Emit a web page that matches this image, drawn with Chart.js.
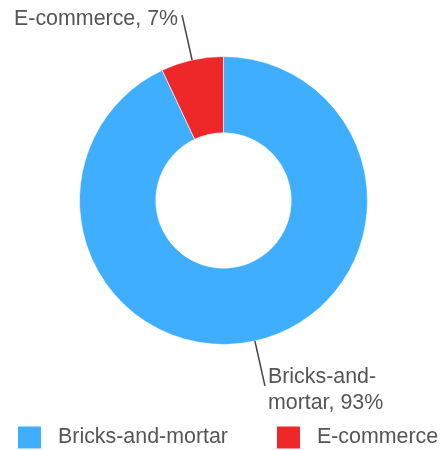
<!DOCTYPE html>
<html>
<head>
<meta charset="utf-8">
<script src="https://cdn.jsdelivr.net/npm/chart.js@4/dist/chart.umd.min.js"></script>
<style>
  html, body { margin: 0; padding: 0; background: #ffffff; }
  #wrap { width: 441px; height: 450px; }
</style>
</head>
<body>
<div id="wrap"><canvas id="c" width="441" height="450"></canvas></div>
<script>
// Retail sales split by channel (percent)
const categories = ['Bricks-and-mortar', 'E-commerce'];
const shares = [93, 7];
const sliceColors = ['#40AEFF', '#EE2828'];

const FONT = '21.4px "Liberation Sans", Arial, Helvetica, sans-serif';
const TEXT_COLOR = '#555555';

// Greedy wrap that may break after hyphens and spaces
function wrapText(ctx, text, maxWidth) {
  const tokens = text.match(/[^\s-]+-?\s*|\s+/g) || [text];
  const lines = [];
  let cur = '';
  tokens.forEach(tok => {
    const trial = cur + tok;
    if (cur && ctx.measureText(trial.trimEnd()).width > maxWidth) {
      lines.push(cur.trimEnd());
      cur = tok;
    } else {
      cur = trial;
    }
  });
  if (cur) lines.push(cur.trimEnd());
  return lines;
}

// Leader lines with "label, value%" callouts outside each slice
const calloutPlugin = {
  id: 'callouts',
  afterDatasetsDraw(chart) {
    const ctx = chart.ctx;
    const meta = chart.getDatasetMeta(0);
    const LEAD = 46;
    const LINE_H = 26;
    ctx.save();
    ctx.font = FONT;
    meta.data.forEach((arc, i) => {
      const p = arc.getProps(['x', 'y', 'startAngle', 'endAngle', 'outerRadius'], true);
      const mid = (p.startAngle + p.endAngle) / 2;
      const cos = Math.cos(mid), sin = Math.sin(mid);
      const x0 = p.x + cos * p.outerRadius, y0 = p.y + sin * p.outerRadius;
      const x1 = p.x + cos * (p.outerRadius + LEAD), y1 = p.y + sin * (p.outerRadius + LEAD);
      ctx.beginPath();
      ctx.moveTo(x0, y0);
      ctx.lineTo(x1, y1);
      ctx.strokeStyle = '#444444';
      ctx.lineWidth = 1.5;
      ctx.stroke();

      const text = categories[i] + ', ' + shares[i] + '%';
      const onRight = cos >= 0;
      const tx = onRight ? x1 + 3 : x1 - 4;
      const maxW = onRight ? chart.width - tx - 4 : tx - 4;
      const lines = wrapText(ctx, text, maxW);
      const top = y1 + 4 - (lines.length - 1) * LINE_H / 2;
      ctx.fillStyle = TEXT_COLOR;
      ctx.textAlign = onRight ? 'left' : 'right';
      ctx.textBaseline = 'middle';
      lines.forEach((ln, k) => ctx.fillText(ln, tx, top + k * LINE_H));
    });
    ctx.restore();
  }
};

// Legend row along the bottom edge
const legendRowPlugin = {
  id: 'legendRow',
  afterDraw(chart) {
    const ctx = chart.ctx;
    const ds = chart.data.datasets[0];
    const BOX_W = 23, BOX_H = 22, TEXT_GAP = 17, ITEM_GAP = 49;
    const cy = 437.5;
    let x = 18;
    ctx.save();
    ctx.font = FONT;
    ctx.textBaseline = 'middle';
    ctx.textAlign = 'left';
    chart.data.labels.forEach((lab, i) => {
      ctx.fillStyle = ds.backgroundColor[i];
      ctx.fillRect(x, cy - BOX_H / 2, BOX_W, BOX_H);
      const tx = x + BOX_W + TEXT_GAP;
      ctx.fillStyle = TEXT_COLOR;
      ctx.fillText(lab, tx, cy);
      x = tx + ctx.measureText(lab).width + ITEM_GAP;
    });
    ctx.restore();
  }
};

new Chart(document.getElementById('c'), {
  type: 'doughnut',
  data: {
    labels: categories,
    datasets: [{
      data: shares,
      backgroundColor: sliceColors,
      borderColor: 'rgba(255,255,255,0.6)',
      borderWidth: 1
    }]
  },
  options: {
    responsive: false,
    devicePixelRatio: 1,
    animation: false,
    cutout: '47%',
    layout: { padding: { left: 79, right: 73, top: 56, bottom: 105 } },
    plugins: {
      legend: { display: false },
      tooltip: { enabled: false }
    }
  },
  plugins: [calloutPlugin, legendRowPlugin]
});
</script>
</body>
</html>
